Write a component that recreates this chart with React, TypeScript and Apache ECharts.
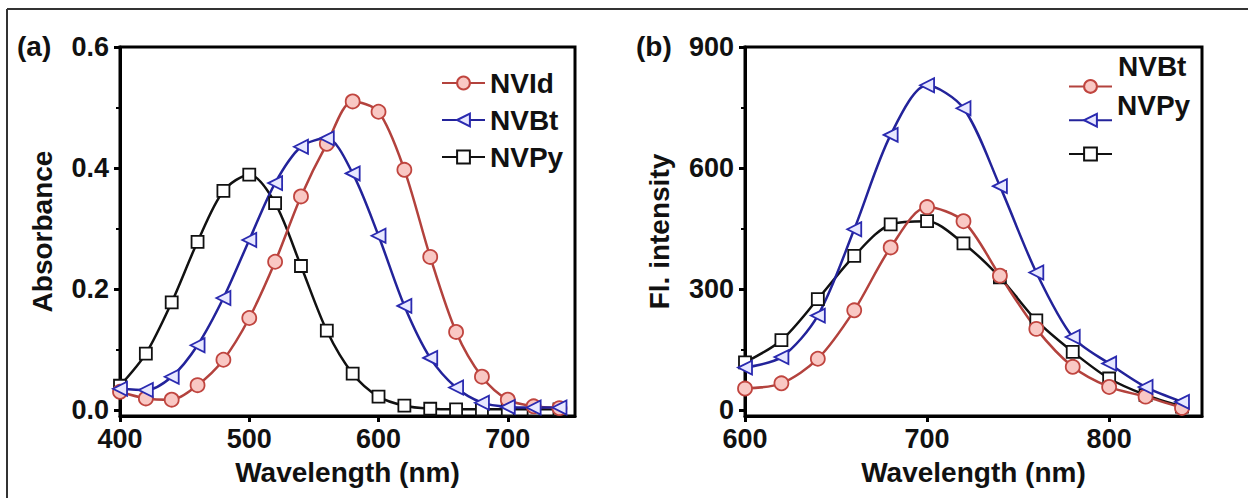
import React, { useEffect, useRef } from "react";
import * as echarts from "echarts";

// ---------- data ----------
const wlA = [400, 420, 440, 460, 480, 500, 520, 540, 560, 580, 600, 620, 640, 660, 680, 700, 720, 740];
const absNVId = [0.03, 0.019, 0.017, 0.041, 0.083, 0.152, 0.245, 0.353, 0.44, 0.51, 0.493, 0.397, 0.253, 0.129, 0.055, 0.017, 0.006, 0.003];
const absNVBt = [0.035, 0.033, 0.055, 0.107, 0.185, 0.281, 0.375, 0.435, 0.449, 0.391, 0.288, 0.172, 0.086, 0.037, 0.012, 0.005, 0.004, 0.004];
const absNVPy = [0.04, 0.093, 0.178, 0.278, 0.362, 0.389, 0.342, 0.238, 0.131, 0.06, 0.022, 0.007, 0.002, 0.001, 0.001, 0.001, 0.001, 0.001];

const wlB = [600, 620, 640, 660, 680, 700, 720, 740, 760, 780, 800, 820, 840];
const flNVId = [53, 66, 127, 247, 403, 503, 468, 333, 201, 107, 57, 33, 5];
const flNVBt = [105, 131, 234, 448, 682, 805, 748, 555, 341, 181, 115, 57, 20];
const flNVPy = [118, 173, 275, 382, 460, 468, 413, 329, 222, 144, 78, 37, 8];

const xTicksA = [400, 500, 600, 700];
const yTicksA = [0, 0.2, 0.4, 0.6];
const yMinorA = [0.1, 0.3, 0.5];
const xTicksB = [600, 700, 800];
const yTicksB = [0, 300, 600, 900];
const yMinorB = [150, 450, 750];

const legendNames = ["NVId", "NVBt", "NVPy"];
const legendTextsB = ["NVBt", "NVPy"];

// ---------- styles ----------
const FONT = '"Liberation Sans", Arial, sans-serif';
const RED = { line: "#b3423d", fill: "#f9c8c4", border: "#c0453f" };
const BLUE = { line: "#23239a", fill: "#e8e8ff", border: "#2a2ab0" };
const BLACK = { line: "#111111", fill: "#ffffff", border: "#111111" };
const TRI_LEFT = "path://M0,50 L100,0 L100,100 Z";

const zip = (xs: number[], ys: number[]) => xs.map((x, i) => [x, ys[i]]);

function mkSeries(name: string, xs: number[], ys: number[], c: any, symbol: string, size: number, xi: number, yi: number) {
  return {
    type: "line",
    name,
    xAxisIndex: xi,
    yAxisIndex: yi,
    data: zip(xs, ys),
    smooth: 0.3,
    symbol,
    symbolSize: size,
    showAllSymbol: true,
    lineStyle: { color: c.line, width: 2.5 },
    itemStyle: { color: c.fill, borderColor: c.border, borderWidth: 1.8 },
    emphasis: { disabled: true },
  };
}

function xAxisCfg(grid: number, min: number, max: number, ticks: number[]) {
  return {
    type: "value",
    gridIndex: grid,
    min,
    max,
    axisLine: { show: true, onZero: false, lineStyle: { color: "#000", width: 3 } },
    axisTick: { show: true, customValues: ticks, length: 6, lineStyle: { color: "#000", width: 3 } },
    axisLabel: { customValues: ticks, fontSize: 27, fontWeight: "bold", color: "#111", margin: 9, fontFamily: FONT },
    splitLine: { show: false },
    name: "Wavelength (nm)",
    nameLocation: "middle",
    nameGap: 42,
    nameTextStyle: { fontSize: 28, fontWeight: "bold", color: "#111", fontFamily: FONT },
  };
}

function yAxisCfg(grid: number, min: number, max: number, ticks: number[], name: string, gap: number, fmt: (v: number) => string) {
  return {
    type: "value",
    gridIndex: grid,
    position: "left",
    min,
    max,
    axisLine: { show: true, onZero: false, lineStyle: { color: "#000", width: 3 } },
    axisTick: { show: true, customValues: ticks, length: 6, lineStyle: { color: "#000", width: 3 } },
    axisLabel: { customValues: ticks, fontSize: 27, fontWeight: "bold", color: "#111", margin: 11, fontFamily: FONT, formatter: fmt },
    splitLine: { show: false },
    name,
    nameLocation: "middle",
    nameGap: gap,
    nameTextStyle: { fontSize: 28, fontWeight: "bold", color: "#111", fontFamily: FONT },
  };
}

function yMinorCfg(grid: number, min: number, max: number, ticks: number[]) {
  return {
    type: "value",
    gridIndex: grid,
    position: "left",
    offset: 0,
    min,
    max,
    axisLine: { show: false, onZero: false },
    axisTick: { show: true, customValues: ticks, length: 4, lineStyle: { color: "#000", width: 2 } },
    axisLabel: { show: false },
    splitLine: { show: false },
  };
}

export default function App() {
  const ref = useRef<HTMLDivElement>(null);
  useEffect(() => {
    if (!ref.current) return;
    const chart = echarts.init(ref.current, undefined, { renderer: "svg" });
    const option: any = {
      animation: false,
      backgroundColor: "#fff",
      grid: [
        { left: 120, top: 47, width: 455, height: 369, show: true, borderColor: "#000", borderWidth: 3, backgroundColor: "transparent" },
        { left: 745, top: 47, width: 457, height: 369, show: true, borderColor: "#000", borderWidth: 3, backgroundColor: "transparent" },
      ],
      xAxis: [xAxisCfg(0, 400, 752, xTicksA), xAxisCfg(1, 600, 851, xTicksB)],
      yAxis: [
        yAxisCfg(0, -0.01, 0.6, yTicksA, "Absorbance", 64, (v: number) => v.toFixed(1)),
        yMinorCfg(0, -0.01, 0.6, yMinorA),
        yAxisCfg(1, -15, 900, yTicksB, "Fl. intensity", 72, (v: number) => String(v)),
        yMinorCfg(1, -15, 900, yMinorB),
      ],
      legend: [
        {
          orient: "vertical",
          left: 436,
          top: 64,
          itemWidth: 43,
          itemHeight: 16,
          itemGap: 9,
          data: legendNames,
          selectedMode: false,
          textStyle: { fontSize: 28, fontWeight: "bold", color: "#111", fontFamily: FONT, lineHeight: 28 },
        },
        {
          orient: "vertical",
          left: 1063,
          top: 74,
          itemWidth: 43,
          itemHeight: 16,
          itemGap: 19,
          data: legendNames,
          selectedMode: false,
          formatter: () => "",
          textStyle: { fontSize: 16, lineHeight: 16 },
        },
      ],
      graphic: [
        { type: "line", shape: { x1: 7, y1: 9, x2: 1248, y2: 9 }, style: { stroke: "#333", lineWidth: 2 } },
        { type: "line", shape: { x1: 7, y1: 9, x2: 7, y2: 498 }, style: { stroke: "#333", lineWidth: 2 } },
        { type: "text", x: 17, y: 46, style: { text: "(a)", font: `bold 28px ${FONT}`, fill: "#111", align: "left", verticalAlign: "middle" } },
        { type: "text", x: 636, y: 46, style: { text: "(b)", font: `bold 28px ${FONT}`, fill: "#111", align: "left", verticalAlign: "middle" } },
        { type: "text", x: 1118, y: 66, style: { text: legendTextsB[0], font: `bold 28px ${FONT}`, fill: "#111", align: "left", verticalAlign: "middle" } },
        { type: "text", x: 1117, y: 105, style: { text: legendTextsB[1], font: `bold 28px ${FONT}`, fill: "#111", align: "left", verticalAlign: "middle" } },
      ],
      series: [
        mkSeries("NVPy", wlA, absNVPy, BLACK, "rect", 12, 0, 0),
        mkSeries("NVId", wlA, absNVId, RED, "circle", 14, 0, 0),
        mkSeries("NVBt", wlA, absNVBt, BLUE, TRI_LEFT, 14, 0, 0),
        mkSeries("NVPy", wlB, flNVPy, BLACK, "rect", 12, 1, 2),
        mkSeries("NVId", wlB, flNVId, RED, "circle", 14, 1, 2),
        mkSeries("NVBt", wlB, flNVBt, BLUE, TRI_LEFT, 14, 1, 2),
      ],
    };
    chart.setOption(option);
    return () => chart.dispose();
  }, []);
  return <div ref={ref} style={{ position: "absolute", left: 0, top: 0, width: 1248, height: 498 }} />;
}
